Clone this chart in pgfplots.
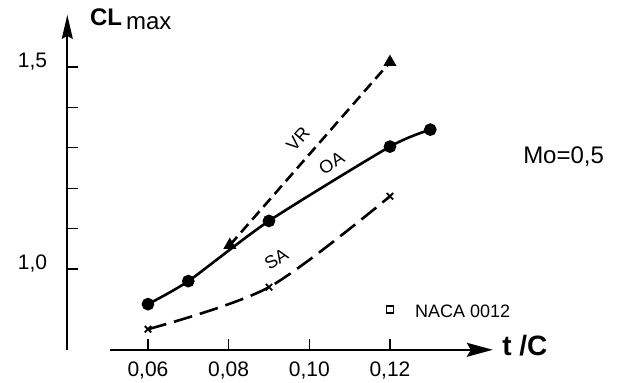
\documentclass[border=0pt]{standalone}
\usepackage{fontspec}
\setmainfont{Liberation Sans}
\usepackage{pgfplots}
\pgfplotsset{compat=1.18}
\usetikzlibrary{arrows.meta}
\begin{document}
\begin{tikzpicture}
\begin{axis}[
  at={(67.3bp,33.2bp)}, anchor=south west,
  scale only axis, width=425.5bp, height=335.3bp,
  xmin=0.04, xmax=0.1455, ymin=0.8, ymax=1.63,
  axis line style={draw=none},
  tick pos=left, tick align=inside, major tick length=11bp,
  tick style={black, line width=1.2bp},
  scaled x ticks=false, scaled y ticks=false,
  xtick={0.06,0.08,0.10,0.12}, xticklabels={{0,06},{0,08},{0,10},{0,12}},
  ytick={1.0,1.1,1.2,1.3,1.4,1.5}, yticklabels={{1,0},{},{},{},{},{1,5}},
  xticklabel style={anchor=base, inner sep=0pt, yshift=-27bp, font=\fontsize{21bp}{24bp}\selectfont},
  yticklabel style={anchor=base east, inner sep=0pt, xshift=-20bp, font=\fontsize{21bp}{24bp}\selectfont},
  clip=false,
]
\draw[line width=1.6bp, -{Stealth[length=24bp,width=11bp,inset=3bp]}] (axis cs:0.04,0.8) -- (axis cs:0.04,1.629);
\draw[line width=1.6bp, -{Stealth[length=26bp,width=14bp,inset=4bp]}] (axis cs:0.0506,0.8) -- (axis cs:0.1455,0.8);

\addplot[black, line width=2.6bp, smooth, tension=0.4, mark=*, mark size=5bp, mark options={solid}]
  coordinates {(0.06,0.913)(0.07,0.970)(0.09,1.119)(0.12,1.303)(0.13,1.345)};
\addplot[black, line width=2.6bp, dash pattern=on 11bp off 6bp, mark=triangle*, mark size=5bp, mark options={solid}]
  coordinates {(0.0803,1.059)(0.12,1.512)};
\addplot[black, line width=2.6bp, smooth, dash pattern=on 19bp off 8bp, mark=x, mark size=4.5bp, mark options={solid, line width=1.8bp}]
  coordinates {(0.06,0.851)(0.09,0.955)(0.12,1.18)};
\addplot[black, only marks, mark=square, mark size=3.5bp, mark options={line width=1.3bp}]
  coordinates {(0.12,0.90)};

\node[rotate=49, inner sep=1pt, font=\fontsize{18bp}{20bp}\selectfont] at (axis cs:0.0972,1.322) {VR};
\node[rotate=31, inner sep=1pt, font=\fontsize{18bp}{20bp}\selectfont] at (axis cs:0.1055,1.262) {OA};
\node[rotate=33, inner sep=1pt, font=\fontsize{18bp}{20bp}\selectfont] at (axis cs:0.0918,1.025) {SA};
\node[anchor=base west, inner sep=0pt, font=\fontsize{24bp}{26bp}\selectfont] at (axis cs:0.153,1.262) {Mo=0,5};
\node[anchor=base west, inner sep=0pt, font=\fontsize{18bp}{20bp}\selectfont] at (axis cs:0.1262,0.879) {NACA 0012};
\node[anchor=base west, inner sep=0pt, font=\fontsize{24bp}{26bp}\selectfont] at (axis cs:0.0456,1.604) {\textbf{CL}\,\raisebox{-4bp}{max}};
\node[anchor=base west, inner sep=0pt, font=\fontsize{28bp}{30bp}\selectfont\bfseries] at (axis cs:0.1478,0.787) {t /C};
\end{axis}
\pgfresetboundingbox
\useasboundingbox (0,0) rectangle (617bp,383bp);
\end{tikzpicture}
\end{document}
